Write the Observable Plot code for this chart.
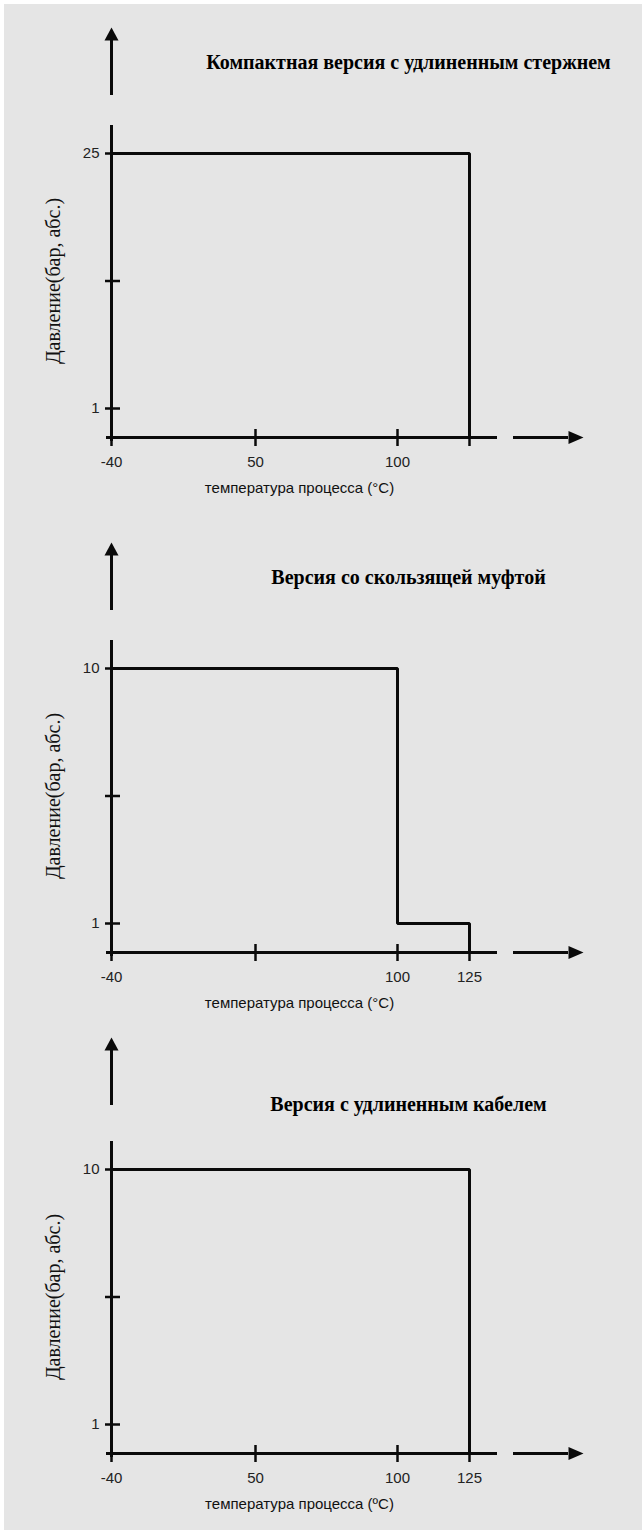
<!DOCTYPE html>
<html><head><meta charset="utf-8">
<script src="https://cdn.jsdelivr.net/npm/d3@7"></script>
<script src="https://cdn.jsdelivr.net/npm/@observablehq/plot@0.6"></script>
<style>
html,body{margin:0;padding:0;background:#fff;}
#bg{position:absolute;left:4px;top:4px;width:638px;height:1526px;background:#e5e5e5;}
#charts{position:absolute;left:0;top:0;width:642px;}
#charts svg{display:block;}
</style></head><body><div id="bg"></div><div id="charts"></div>
<script>
// ---- data ----
const titles = ["Компактная версия с удлиненным стержнем", "Версия со скользящей муфтой", "Версия с удлиненным кабелем"];
const yTitle = "Давление(бар, абс.)";
const xTitles = ["температура процесса (°C)", "температура процесса (°C)", "температура процесса (ºC)"];
const xBreaks = [-40, 50, 100, 125];
const xTicks = [-40, 50, 100, 125];
const xTickLabels1 = ["-40", "50", "100", ""];
const xTickLabels2 = ["-40", "", "100", "125"];
const xTickLabels3 = ["-40", "50", "100", "125"];
const yTicks1 = [1, 13, 25];
const yTickLabels1 = ["1", "", "25"];
const yTicks2 = [1, 5.5, 10];
const yTickLabels2 = ["1", "", "10"];
const yTicks3 = [1, 5.5, 10];
const yTickLabels3 = ["1", "", "10"];
const line1X = [-40, 125, 125];
const line1Y = [25, 25, 0];
const line2X = [-40, 100, 100, 125, 125];
const line2Y = [10, 10, 1, 1, 0];
const line3X = [-40, 125, 125];
const line3Y = [10, 10, 0];

const panels = [
  {h: 515, title: titles[0], xTitle: xTitles[0], xl: xTickLabels1, yt: yTicks1, yl: yTickLabels1, lx: line1X, ly: line1Y, titleY: 62, arrowShift: 0},
  {h: 501, title: titles[1], xTitle: xTitles[1], xl: xTickLabels2, yt: yTicks2, yl: yTickLabels2, lx: line2X, ly: line2Y, titleY: 62, arrowShift: 0},
  {h: 514, title: titles[2], xTitle: xTitles[2], xl: xTickLabels3, yt: yTicks3, yl: yTickLabels3, lx: line3X, ly: line3Y, titleY: 88, arrowShift: -6}
];

const triUp = {draw(ctx) { ctx.moveTo(0, -13); ctx.lineTo(7, 0); ctx.lineTo(-7, 0); ctx.closePath(); }};
const triRight = {draw(ctx) { ctx.moveTo(15, 0); ctx.lineTo(0, -6.5); ctx.lineTo(0, 6.5); ctx.closePath(); }};

const ink = "#0a0a0a";
const frameTop = 125, axisY = 437, frameLeft = 111, frameRight = 497;
const labelFont = "'Liberation Sans', Arial, sans-serif";
const serif = "'Liberation Serif', 'Times New Roman', serif";

// schematic (non-uniform) axis: piecewise-linear warp applied by the scale's transform
const warpX = d3.scaleLinear().domain(xBreaks).range([111, 255, 397, 469]);

const host = document.getElementById("charts");
panels.forEach((p) => {
  const yMax = p.yt[p.yt.length - 1];
  const warpY = d3.scaleLinear().domain([0, 1, yMax]).range([axisY, 408, 153]);
  const idx = d3.range(p.lx.length);
  const frameCx = (frameLeft + frameRight) / 2, frameCy = (frameTop + axisY) / 2;
  const aTop = 38 + p.arrowShift, aBot = 95 + p.arrowShift;
  const chart = Plot.plot({
    width: 642, height: p.h,
    marginLeft: frameLeft, marginRight: 642 - frameRight, marginTop: frameTop, marginBottom: p.h - axisY,
    style: {background: "transparent", overflow: "visible"},
    x: {transform: warpX, domain: [frameLeft, frameRight], range: [frameLeft, frameRight], axis: null},
    y: {transform: warpY, domain: [axisY, frameTop], range: [axisY, frameTop], axis: null},
    marks: [
      Plot.ruleY([0], {y: d => d, insetLeft: -5, stroke: ink, strokeWidth: 3}),
      Plot.ruleX([-40], {x: d => d, insetBottom: -4, stroke: ink, strokeWidth: 3}),
      Plot.ruleX([-40], {x: d => d, insetTop: -(frameTop - aTop), insetBottom: axisY - aBot, stroke: ink, strokeWidth: 3}),
      Plot.dot([-40], {x: d => d, frameAnchor: "top", dy: aTop + 2 - frameTop, symbol: triUp, fill: ink, stroke: "none"}),
      Plot.ruleY([0], {y: d => d, insetLeft: 513 - frameLeft, insetRight: -(568 - frameRight), stroke: ink, strokeWidth: 3}),
      Plot.dot([0], {y: d => d, frameAnchor: "right", dx: 568 - frameRight, symbol: triRight, fill: ink, stroke: "none"}),
      Plot.tickX(xTicks, {x: d => d, insetTop: (axisY - frameTop) - 8, insetBottom: -9, stroke: ink, strokeWidth: 2.5}),
      Plot.tickY(p.yt, {y: d => d, insetLeft: -6, insetRight: (frameRight - frameLeft) - 9, stroke: ink, strokeWidth: 2.5}),
      Plot.line(idx, {x: i => p.lx[i], y: i => p.ly[i], stroke: ink, strokeWidth: 3, strokeLinejoin: "miter", strokeLinecap: "butt"}),
      Plot.text(xTicks, {x: d => d, text: (d, i) => p.xl[i], frameAnchor: "bottom", lineAnchor: "middle", dy: 25, fontSize: 15, fontFamily: labelFont, fill: "#222"}),
      Plot.text(p.yt, {y: d => d, text: (d, i) => p.yl[i], frameAnchor: "left", lineAnchor: "middle", dx: -12, textAnchor: "end", fontSize: 15, fontFamily: labelFont, fill: "#222"}),
      Plot.text([p.title], {text: d => d, frameAnchor: "top", lineAnchor: "middle", textAnchor: "middle", dx: 408 - frameCx, dy: p.titleY - frameTop, fontSize: 20, fontWeight: "bold", fontFamily: serif, fill: "#000"}),
      Plot.text([yTitle], {text: d => d, frameAnchor: "left", textAnchor: "middle", lineAnchor: "middle", rotate: -90, dx: 53 - frameLeft, dy: 280.5 - frameCy, fontSize: 20, fontFamily: serif, fill: "#111"}),
      Plot.text([p.xTitle], {text: d => d, frameAnchor: "bottom", textAnchor: "middle", lineAnchor: "middle", dx: 299 - frameCx, dy: 51, fontSize: 15, fontFamily: labelFont, fill: "#111"})
    ]
  });
  host.appendChild(chart);
});
</script></body></html>
